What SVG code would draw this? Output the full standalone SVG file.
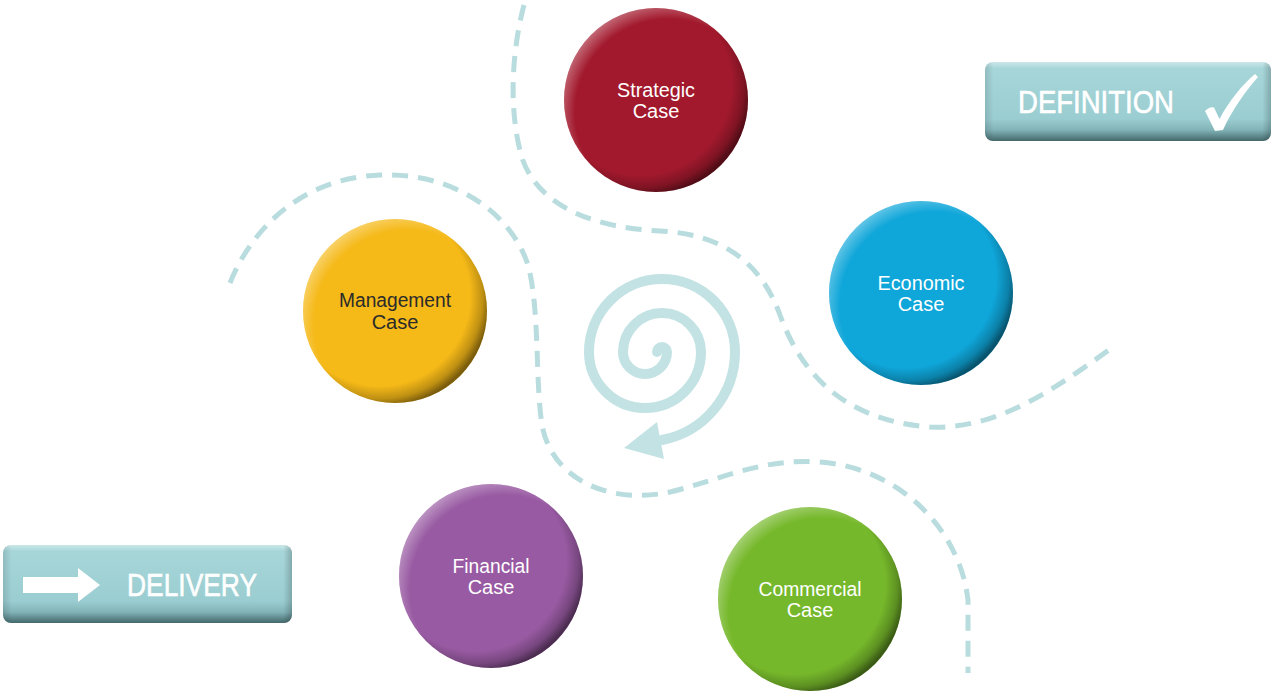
<svg xmlns="http://www.w3.org/2000/svg" width="1274" height="691" viewBox="0 0 1274 691">
<style>
.dash{fill:none;stroke:#b9dcde;stroke-width:5;stroke-dasharray:16 10;stroke-linecap:butt}
.spiral{fill:none;stroke:#c3e2e4;stroke-width:10;stroke-linecap:round}
.lbl{font-family:"Liberation Sans",Arial,Helvetica,sans-serif;font-size:20px;text-anchor:middle;fill:#ffffff}
.dark{fill:#2b2b2b}
.btn{font-family:"Liberation Sans",Arial,Helvetica,sans-serif;font-size:31px;fill:#ffffff;stroke:#ffffff;stroke-width:0.6}
</style>
<defs>
<radialGradient id="shade" cx="0.42" cy="0.42" r="0.6" fx="0.4" fy="0.4">
<stop offset="0" stop-color="#000" stop-opacity="0"/>
<stop offset="0.82" stop-color="#000" stop-opacity="0"/>
<stop offset="0.93" stop-color="#000" stop-opacity="0.22"/>
<stop offset="1" stop-color="#000" stop-opacity="0.5"/>
</radialGradient>
<radialGradient id="hl" cx="0.57" cy="0.57" r="0.6">
<stop offset="0" stop-color="#fff" stop-opacity="0"/>
<stop offset="0.85" stop-color="#fff" stop-opacity="0"/>
<stop offset="1" stop-color="#fff" stop-opacity="0.35"/>
</radialGradient>
<linearGradient id="boxg" x1="0" y1="0" x2="0" y2="1">
<stop offset="0" stop-color="#cbe8ea"/>
<stop offset="0.08" stop-color="#a7d6d9"/>
<stop offset="0.72" stop-color="#9acdd1"/>
<stop offset="0.86" stop-color="#82b3b7"/>
<stop offset="1" stop-color="#43686b"/>
</linearGradient>
<linearGradient id="boxside" x1="0" y1="0" x2="1" y2="0">
<stop offset="0" stop-color="#000" stop-opacity="0.12"/>
<stop offset="0.03" stop-color="#000" stop-opacity="0"/>
<stop offset="0.97" stop-color="#000" stop-opacity="0"/>
<stop offset="1" stop-color="#000" stop-opacity="0.2"/>
</linearGradient>
</defs>
<rect width="1274" height="691" fill="#ffffff"/>

<g id="connectors">
<path class="dash" d="M524,5 C512,50 508,110 522,158 C540,210 600,228 660,231 C720,234 760,260 780,315 C800,370 840,420 930,427 C1000,430 1060,385 1113,347"/>
<path class="dash" d="M230,283 C252,228 302,178 380,175 C450,172 510,210 528,265 C540,310 535,380 542,425 C552,480 610,505 670,492 C720,480 760,458 820,462 C900,468 960,530 968,600 L968,673"/>
<g id="spiral">
<path class="spiral" d="M657,352 A5,5 0 0 1 667,352 A22,22 0 0 1 623,352 A39,39 0 0 1 701,352 A56,56 0 0 1 589,352 A73,73 0 0 1 735,352 A90,90 0 0 1 662,440"/>
<polygon points="664,459 657,422 624,448" fill="#c3e2e4"/>
</g>
</g>

<g id="strategic">
<circle cx="656" cy="100" r="92" fill="#a2192d"/>
<circle cx="656" cy="100" r="92" fill="url(#hl)"/>
<circle cx="656" cy="100" r="92" fill="url(#shade)"/>
<text class="lbl" x="656" y="97" textLength="78" lengthAdjust="spacingAndGlyphs">Strategic</text>
<text class="lbl" x="656" y="118">Case</text>
</g>

<g id="economic">
<circle cx="921" cy="293" r="92" fill="#0fa6d9"/>
<circle cx="921" cy="293" r="92" fill="url(#hl)"/>
<circle cx="921" cy="293" r="92" fill="url(#shade)"/>
<text class="lbl" x="921" y="290" textLength="87" lengthAdjust="spacingAndGlyphs">Economic</text>
<text class="lbl" x="921" y="311">Case</text>
</g>

<g id="management">
<circle cx="395" cy="311" r="92" fill="#f5b918"/>
<circle cx="395" cy="311" r="92" fill="url(#hl)"/>
<circle cx="395" cy="311" r="92" fill="url(#shade)"/>
<text class="lbl dark" x="395" y="307" textLength="112" lengthAdjust="spacingAndGlyphs">Management</text>
<text class="lbl dark" x="395" y="329">Case</text>
</g>

<g id="financial">
<circle cx="491" cy="576" r="92" fill="#985aa2"/>
<circle cx="491" cy="576" r="92" fill="url(#hl)"/>
<circle cx="491" cy="576" r="92" fill="url(#shade)"/>
<text class="lbl" x="491" y="573" textLength="77" lengthAdjust="spacingAndGlyphs">Financial</text>
<text class="lbl" x="491" y="594">Case</text>
</g>

<g id="commercial">
<circle cx="810" cy="599" r="92" fill="#76b82b"/>
<circle cx="810" cy="599" r="92" fill="url(#hl)"/>
<circle cx="810" cy="599" r="92" fill="url(#shade)"/>
<text class="lbl" x="810" y="596" textLength="103" lengthAdjust="spacingAndGlyphs">Commercial</text>
<text class="lbl" x="810" y="617">Case</text>
</g>

<g id="definition">
<rect x="985" y="62" width="286" height="79" rx="8" fill="url(#boxg)"/>
<rect x="985" y="62" width="286" height="79" rx="8" fill="url(#boxside)"/>
<text class="btn" x="1018" y="112.5" textLength="156" lengthAdjust="spacingAndGlyphs">DEFINITION</text>
<path d="M1205,111 C1208,108 1211,106.5 1214,107.5 L1219.5,119 C1229,101 1242,85 1255,74 L1258,77 C1245,92 1232,110 1223,130 L1215,131 Z" fill="#ffffff"/>
</g>

<g id="delivery">
<rect x="3" y="545" width="289" height="78" rx="8" fill="url(#boxg)"/>
<rect x="3" y="545" width="289" height="78" rx="8" fill="url(#boxside)"/>
<polygon points="23,577 78,577 78,568 100,585 78,602 78,593 23,593" fill="#ffffff"/>
<text class="btn" x="127" y="596" textLength="130" lengthAdjust="spacingAndGlyphs">DELIVERY</text>
</g>
</svg>
